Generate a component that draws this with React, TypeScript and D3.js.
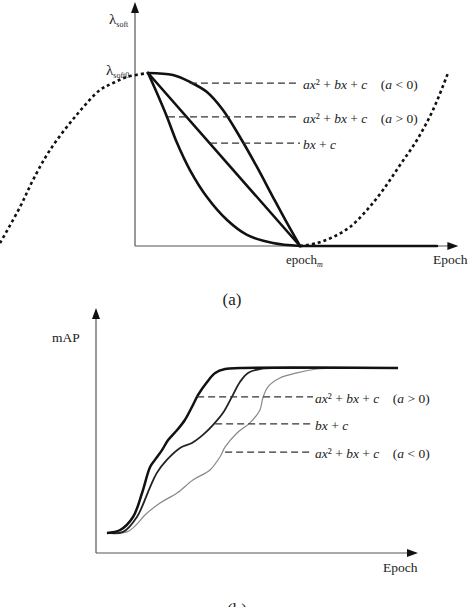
import * as d3 from 'd3'

// ---- panel (a): lambda_soft schedules (epoch units, epoch_m = 100; lambda units, lambda_soft0 = 1)
const quadNeg: [number, number][] = [
  [7.9, 1.0], [23.0, 0.988], [33.3, 0.948], [43.6, 0.89], [53.3, 0.786],
  [63.6, 0.63], [73.9, 0.457], [83.6, 0.283], [92.1, 0.133], [100, 0],
]
const quadPos: [number, number][] = [
  [7.9, 1.0], [13.3, 0.884], [19.4, 0.746], [25.5, 0.595], [33.3, 0.439],
  [43.6, 0.283], [55.8, 0.15], [67.9, 0.064], [83.6, 0.017], [100, 0],
]
const linear: [number, number][] = [[7.9, 1.0], [100, 0]]
const flatTail: [number, number][] = [[100, 0], [183, 0]]
const dottedLeft: [number, number][] = [
  [-81.8, 0.017], [-69.7, 0.225], [-61.8, 0.382], [-51.5, 0.555], [-36.4, 0.746],
  [-21.2, 0.902], [-13.3, 0.942], [-4.8, 0.977], [7.9, 1.0],
]
const dottedRight: [number, number][] = [
  [100, 0], [110.3, 0.017], [120, 0.052], [130.3, 0.11], [140.6, 0.208],
  [150.3, 0.324], [160.6, 0.468], [170.9, 0.613], [180.6, 0.786], [189.7, 1.0],
]
const labelsA = ['ax² + bx + c   (a < 0)', 'ax² + bx + c   (a > 0)', 'bx + c']
const leaderYA = [0.942, 0.746, 0.595]
const leaderStartA = [33.3, 20, 45.5]

// ---- panel (b): mAP curves (epoch 0-100, mAP 0-100 of axis height)
const mapPos: [number, number][] = [
  [3.4, 8.2], [7.5, 9.4], [11.5, 14.7], [14.3, 24.5], [16.8, 35.1], [18.3, 38.0],
  [20.5, 42.0], [22.4, 46.1], [25.2, 50.2], [27.6, 54.3], [29.8, 59.6], [31.7, 64.5],
  [34.5, 69.8], [37.0, 73.5], [40.1, 75.1], [44.7, 75.5], [93.8, 75.5],
]
const mapLin: [number, number][] = [
  [3.4, 8.2], [8.4, 8.6], [12.7, 14.7], [16.8, 26.9], [18.9, 32.7], [22.0, 38.0],
  [26.1, 42.9], [29.8, 44.9], [33.2, 48.2], [36.3, 52.2], [39.4, 57.1], [42.2, 63.7],
  [44.7, 69.8], [47.2, 73.5], [50.9, 75.1], [57.1, 75.5], [93.8, 75.5],
]
const mapNeg: [number, number][] = [
  [3.4, 8.2], [9.6, 8.6], [13.0, 12.2], [15.2, 15.5], [19.9, 20.4], [25.2, 24.5],
  [30.1, 29.8], [35.4, 33.9], [38.5, 39.2], [40.1, 43.3], [43.8, 49.0], [47.8, 53.1],
  [50.9, 58.4], [51.9, 63.7], [53.4, 67.8], [57.1, 71.4], [62.4, 73.5], [68.6, 75.1],
  [73.6, 75.5], [93.8, 75.5],
]
const labelsB = ['ax² + bx + c   (a > 0)', 'bx + c', 'ax² + bx + c   (a < 0)']
const leaderYB = [63.7, 52.7, 41.2]
const leaderStartB = [31.4, 37.0, 40.1]
const leaderEndB = 67.4

const serif = '"Liberation Serif", "DejaVu Serif", serif'

const xA = d3.scaleLinear().domain([0, 100]).range([135, 300])
const yA = d3.scaleLinear().domain([0, 1]).range([246, 73])
const xB = d3.scaleLinear().domain([0, 100]).range([96, 418])
const yB = d3.scaleLinear().domain([0, 100]).range([553, 308])

const lineA = d3.line<[number, number]>().x(d => xA(d[0])).y(d => yA(d[1])).curve(d3.curveCatmullRom)
const lineB = d3.line<[number, number]>().x(d => xB(d[0])).y(d => yB(d[1])).curve(d3.curveCatmullRom)

// math label: italic letters, upright operators
function MathText({ text, x, y }: { text: string; x: number; y: number }) {
  const parts = text.split(/(\s+)/)
  return (
    <text x={x} y={y} fontFamily={serif} fontSize={13.5} fill="#222" dominantBaseline="central" xmlSpace="preserve">
      {parts.map((p, i) =>
        /^[a-z²]+$/.test(p) || /^\(a$/.test(p) ? (
          <tspan key={i}>
            {p.split('').map((ch, j) =>
              /[a-z]/.test(ch) ? <tspan key={j} fontStyle="italic">{ch}</tspan> : <tspan key={j}>{ch}</tspan>
            )}
          </tspan>
        ) : (
          <tspan key={i}>{p.replace(/^(\s+)$/, s => (s.length > 1 ? '\u00a0\u00a0\u00a0\u00a0' : '\u00a0'))}</tspan>
        )
      )}
    </text>
  )
}

function Arrow({ x, y, dir }: { x: number; y: number; dir: 'up' | 'right' }) {
  const pts = dir === 'up'
    ? `${x},${y} ${x - 4},${y + 11} ${x + 4},${y + 11}`
    : `${x},${y} ${x - 11},${y - 4} ${x - 11},${y + 4}`
  return <polygon points={pts} fill="#111" />
}

export default function App() {
  return (
    <svg width={474} height={607} style={{ position: 'absolute', left: 0, top: 0, background: '#fff' }}>
      {/* ---------- panel (a) ---------- */}
      <line x1={xA(0)} y1={yA(0)} x2={xA(0)} y2={yA(1.41) + 8} stroke="#555" strokeWidth={1.2} />
      <Arrow x={xA(0)} y={yA(1.41)} dir="up" />
      <line x1={xA(0)} y1={yA(0)} x2={xA(196) - 8} y2={yA(0)} stroke="#555" strokeWidth={1.2} />
      <Arrow x={xA(196)} y={yA(0)} dir="right" />

      <path d={lineA(dottedLeft) ?? ''} fill="none" stroke="#111" strokeWidth={2.6} strokeDasharray="3,3" />
      <path d={lineA(dottedRight) ?? ''} fill="none" stroke="#111" strokeWidth={2.6} strokeDasharray="3,3" />
      {[quadNeg, quadPos, linear, flatTail].map((c, i) => (
        <path key={i} d={lineA(c) ?? ''} fill="none" stroke="#111" strokeWidth={2.6} strokeLinecap="round" />
      ))}

      {labelsA.map((l, i) => (
        <g key={l}>
          <line x1={xA(leaderStartA[i])} x2={xA(100)} y1={yA(leaderYA[i])} y2={yA(leaderYA[i])}
            stroke="#333" strokeWidth={1.2} strokeDasharray="7,4" />
          <MathText text={l} x={xA(101.8)} y={yA(leaderYA[i]) + 1} />
        </g>
      ))}

      <text x={109} y={24} fontFamily={serif} fontSize={15} fill="#222">
        λ<tspan fontSize={8} dy={3}>soft</tspan>
      </text>
      <text x={106} y={75} fontFamily={serif} fontSize={15} fill="#222">
        λ<tspan fontSize={8} dy={3}>soft0</tspan>
      </text>
      <text x={286} y={264} fontFamily={serif} fontSize={13} fill="#222">
        epoch<tspan fontSize={8} fontStyle="italic" dy={3}>m</tspan>
      </text>
      <text x={433} y={264} fontFamily={serif} fontSize={13.5} fill="#222">Epoch</text>
      <text x={232} y={305} fontFamily={serif} fontSize={17} fill="#222" textAnchor="middle">(a)</text>

      {/* ---------- panel (b) ---------- */}
      <line x1={xB(0)} y1={yB(0)} x2={xB(0)} y2={yB(100) + 8} stroke="#555" strokeWidth={1.2} />
      <Arrow x={xB(0)} y={yB(100)} dir="up" />
      <line x1={xB(0)} y1={yB(0)} x2={xB(100) - 8} y2={yB(0)} stroke="#555" strokeWidth={1.2} />
      <Arrow x={xB(100)} y={yB(0)} dir="right" />

      <path d={lineB(mapNeg) ?? ''} fill="none" stroke="#888" strokeWidth={1.2} />
      <path d={lineB(mapLin) ?? ''} fill="none" stroke="#222" strokeWidth={1.8} />
      <path d={lineB(mapPos) ?? ''} fill="none" stroke="#111" strokeWidth={2.5} />

      {labelsB.map((l, i) => (
        <g key={i}>
          <line x1={xB(leaderStartB[i])} x2={xB(leaderEndB)} y1={yB(leaderYB[i])} y2={yB(leaderYB[i])}
            stroke="#333" strokeWidth={1.2} strokeDasharray="7,4" />
          <MathText text={l} x={xB(leaderEndB) + 2} y={yB(leaderYB[i]) + 1} />
        </g>
      ))}

      <text x={52} y={342} fontFamily={serif} fontSize={13.5} fill="#222">mAP</text>
      <text x={383} y={572} fontFamily={serif} fontSize={13.5} fill="#222">Epoch</text>
      <text x={237} y={615} fontFamily={serif} fontSize={17} fill="#222" textAnchor="middle">(b)</text>
    </svg>
  )
}
